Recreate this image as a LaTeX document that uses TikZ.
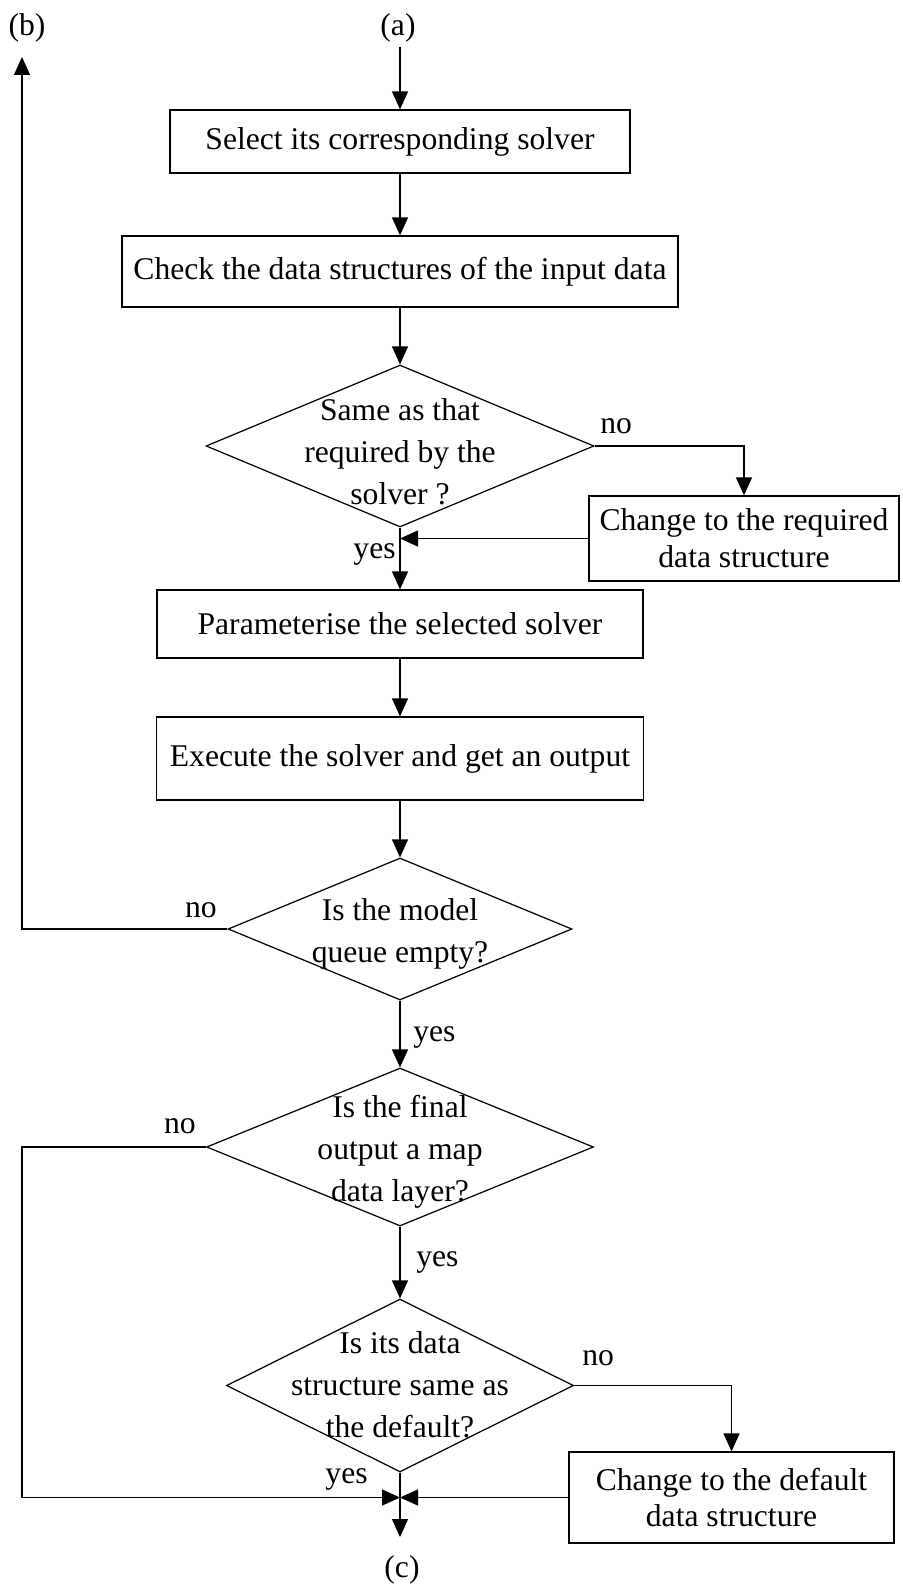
\documentclass[tikz,border=0pt]{standalone}
\usepackage{fontspec}
\setmainfont{Liberation Serif}
\usetikzlibrary{shapes.geometric,arrows.meta}

\tikzset{
  flowbox/.style={draw, line width=0.7pt, inner sep=0pt, align=center,
                  font=\fontsize{18}{21}\selectfont},
  flowdiam/.style={draw, diamond, line width=0.7pt, inner sep=0pt},
  diamtext/.style={align=center, inner sep=0pt, font=\fontsize{18}{23.8}\selectfont},
  tag/.style={inner sep=0pt, font=\fontsize{18}{21}\selectfont},
  flow/.style={line width=0.7pt, -{Triangle[length=3.6mm,width=3.2mm]}}
}

\begin{document}
\begin{tikzpicture}[x=0.02cm,y=-0.02cm]
\useasboundingbox (0,0) rectangle (902,1584);

\coordinate (cATop) at (400,47);
\coordinate (cBTip) at (22,57);
\coordinate (cMerge) at (400,1497.5);
\coordinate (cCEnd) at (400,1537);

% boxes
\node[flowbox, minimum width=9.2cm,  minimum height=1.26cm] (sSelect)  at (400,141.5) {Select its corresponding solver};
\node[flowbox, minimum width=11.12cm, minimum height=1.42cm] (sCheck)  at (400,271.5) {Check the data structures of the input data};
\node[flowbox, minimum width=6.2cm,  minimum height=1.7cm]  (sChangeA) at (744,538.5) {Change to the required\\data structure};
\node[flowbox, minimum width=9.72cm, minimum height=1.36cm] (sParam)   at (400,624) {Parameterise the selected solver};
\node[flowbox, minimum width=9.74cm, minimum height=1.66cm] (sExec)    at (400,758.5) {Execute the solver and get an output};
\node[flowbox, minimum width=6.5cm,  minimum height=1.82cm] (sChangeB) at (731.5,1497.5) {Change to the default\\data structure};

% decisions
\node[flowdiam, minimum width=7.76cm, minimum height=3.24cm] (qSame)  at (400,446) {};
\node[flowdiam, minimum width=6.88cm, minimum height=2.84cm] (qQueue) at (400,929) {};
\node[flowdiam, minimum width=7.74cm, minimum height=3.16cm] (qMap)   at (400,1147) {};
\node[flowdiam, minimum width=6.94cm, minimum height=3.46cm] (qDef)   at (400,1385.5) {};
\node[diamtext] (tSame)  at (400,452)  {Same as that\\required by the\\solver ?};
\node[diamtext] (tQueue) at (400,934)  {Is the model\\queue empty?};
\node[diamtext] (tMap)   at (400,1152) {Is the final\\output a map\\data layer?};
\node[diamtext] (tDef)   at (400,1385) {Is its data\\structure same as\\the default?};

% ends
\node[tag] (lA) at (398,28) {(a)};
\node[tag] (lB) at (27,28) {(b)};
\node[tag] (lC) at (402,1570) {(c)};

\foreach \n/\x/\y/\a/\t in
{   lNoA/600/433/base west/no,
    lYesA/396/558/base east/yes,
    lNoB/217/917/base east/no,
    lYesB/413/1041/base west/yes,
    lNoC/196/1133/base east/no,
    lYesC/416/1266/base west/yes,
    lNoD/582/1365/base west/no,
    lYesD/368/1483/base east/yes
}
{
    \node[tag, anchor=\a] (\n) at (\x,\y) {\t};
};

% connectors
\draw[flow] (cATop) -- (sSelect);
\draw[flow] (sSelect) -- (sCheck);
\draw[flow] (sCheck) -- (qSame);
\draw[flow] (qSame.east) -| (sChangeA);
\draw[flow] (sChangeA.west) -- (sChangeA.west -| qSame.south);
\draw[flow] (qSame) -- (sParam);
\draw[flow] (sParam) -- (sExec);
\draw[flow] (sExec) -- (qQueue);
\draw[flow] (qQueue.west) -| (cBTip);
\draw[flow] (qQueue) -- (qMap);
\draw[flow] (qMap.west) -- (qMap.west -| cBTip) |- (cMerge);
\draw[flow] (qMap) -- (qDef);
\draw[flow] (qDef.east) -| (sChangeB);
\draw[flow] (sChangeB.west) -- (cMerge);
\draw[flow] (qDef.south) -- (cCEnd);

\end{tikzpicture}
\end{document}
